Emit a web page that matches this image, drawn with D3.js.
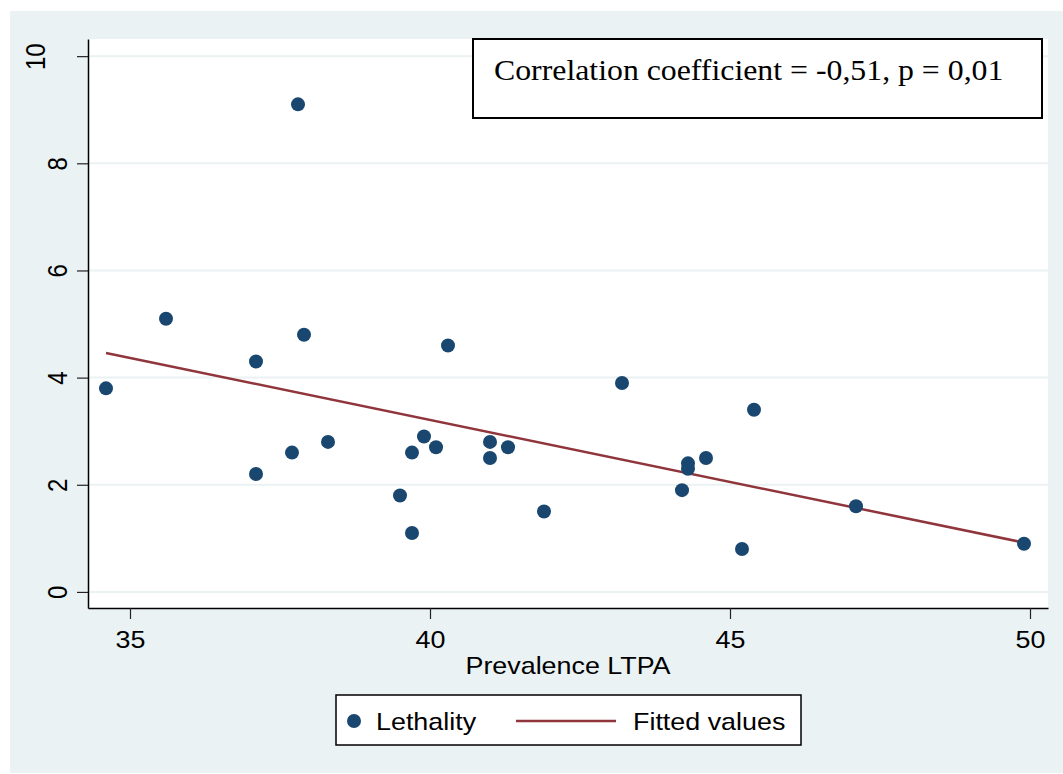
<!DOCTYPE html>
<html>
<head>
<meta charset="utf-8">
<script src="https://cdn.jsdelivr.net/npm/d3@7"></script>
<style>
  body { margin: 0; background: #fff; }
</style>
</head>
<body>
<div id="chart"></div>
<script>
// data
var prevalence = [34.6, 35.6, 37.1, 37.1, 37.7, 37.8, 37.9, 38.3, 39.5, 39.7, 39.7, 39.9, 40.1, 40.3,
  41.0, 41.0, 41.3, 41.9, 43.2, 44.2, 44.3, 44.3, 44.6, 45.2, 45.4, 47.1, 49.9];
var lethality = [3.8, 5.1, 4.3, 2.2, 2.6, 9.1, 4.8, 2.8, 1.8, 2.6, 1.1, 2.9, 2.7, 4.6,
  2.8, 2.5, 2.7, 1.5, 3.9, 1.9, 2.4, 2.3, 2.5, 0.8, 3.4, 1.6, 0.9];

// fitted line end points
var fitX = [34.6, 49.9];
var fitY = [4.46, 0.92];

var xTicks = [35, 40, 45, 50];
var yTicks = [0, 2, 4, 6, 8, 10];
var legendLabels = ["Lethality", "Fitted values"];
var xTitle = "Prevalence LTPA";
var noteText = "Correlation coefficient = -0,51, p = 0,01";

var svgWidth = 1063;
var svgHeight = 774;

var plot = { left: 88, right: 1048, top: 39, bottom: 608 };

var bg = "#eaf2f3";
var navy = "#1a476f";
var maroon = "#90353b";
var sans = "'Liberation Sans', Arial, Helvetica, sans-serif";
var serif = "'Liberation Serif', 'Times New Roman', serif";

var svg = d3.select("#chart")
  .append("svg")
  .attr("width", svgWidth)
  .attr("height", svgHeight);

// outer graph region
svg.append("rect")
  .attr("x", 10)
  .attr("y", 11)
  .attr("width", svgWidth - 10)
  .attr("height", svgHeight - 12)
  .attr("fill", bg);

// plot region
svg.append("rect")
  .attr("x", plot.left)
  .attr("y", plot.top)
  .attr("width", plot.right - plot.left)
  .attr("height", plot.bottom - plot.top)
  .attr("fill", "#fff");

var x = d3.scaleLinear().domain([34.3, 50.3]).range([plot.left, plot.right]);
var y = d3.scaleLinear().domain([-0.3, 10.32]).range([plot.bottom, plot.top]);

// gridlines
svg.append("g")
  .selectAll("line")
  .data(yTicks)
  .enter()
  .append("line")
  .attr("x1", plot.left)
  .attr("x2", plot.right)
  .attr("y1", d => y(d))
  .attr("y2", d => y(d))
  .attr("stroke", bg)
  .attr("stroke-width", 2);

// y axis
var yAxis = svg.append("g")
  .attr("transform", `translate(${plot.left},0)`)
  .call(d3.axisLeft(y).tickValues(yTicks).tickSize(11).tickSizeOuter(0).tickFormat(d3.format("d")));

yAxis.selectAll(".tick text")
  .attr("x", 0)
  .attr("dy", 0)
  .attr("text-anchor", "middle")
  // the two digit label sits further out, as in the original
  .attr("transform", d => `translate(${-21 - (String(d).length - 1) * 22},0) scale(1.12,1) rotate(-90)`);

// x axis
var xAxis = svg.append("g")
  .attr("transform", `translate(0,${plot.bottom})`)
  .call(d3.axisBottom(x).tickValues(xTicks).tickSize(11).tickSizeOuter(0).tickFormat(d3.format("d")));

xAxis.selectAll(".tick text")
  .attr("y", 0)
  .attr("dy", 0)
  .attr("transform", "translate(0,40) scale(1.12,1)");

svg.selectAll(".domain").attr("stroke", "#000").attr("stroke-width", 1.5);
svg.selectAll(".tick line").attr("stroke", "#222").attr("stroke-width", 1.2);
svg.selectAll(".tick text")
  .attr("fill", "#000")
  .attr("font-family", sans)
  .attr("font-size", 24);

// x axis title
svg.append("text")
  .attr("transform", `translate(${(plot.left + plot.right) / 2},674) scale(1.12,1)`)
  .attr("text-anchor", "middle")
  .attr("font-family", sans)
  .attr("font-size", 24)
  .attr("fill", "#000")
  .text(xTitle);

// fitted line
var line = d3.line()
  .x(d => x(d[0]))
  .y(d => y(d[1]));

svg.append("path")
  .datum(fitX.map((d, i) => [d, fitY[i]]))
  .attr("d", line)
  .attr("fill", "none")
  .attr("stroke", maroon)
  .attr("stroke-width", 2.5);

// points
svg.append("g")
  .selectAll("circle")
  .data(prevalence)
  .enter()
  .append("circle")
  .attr("cx", d => x(d))
  .attr("cy", (d, i) => y(lethality[i]))
  .attr("r", 7)
  .attr("fill", navy);

// correlation note
svg.append("rect")
  .attr("x", 473)
  .attr("y", 39)
  .attr("width", 569)
  .attr("height", 79)
  .attr("fill", "#fff")
  .attr("stroke", "#000")
  .attr("stroke-width", 2);

svg.append("text")
  .attr("transform", "translate(494,80) scale(1.06,1)")
  .attr("font-family", serif)
  .attr("font-size", 30)
  .attr("fill", "#000")
  .text(noteText);

// legend
var legend = svg.append("g");

legend.append("rect")
  .attr("x", 336)
  .attr("y", 695)
  .attr("width", 465)
  .attr("height", 50)
  .attr("fill", "#fff")
  .attr("stroke", "#000")
  .attr("stroke-width", 1.5);

legend.append("circle")
  .attr("cx", 354)
  .attr("cy", 721)
  .attr("r", 7)
  .attr("fill", navy);

legend.append("line")
  .attr("x1", 516)
  .attr("x2", 616)
  .attr("y1", 721)
  .attr("y2", 721)
  .attr("stroke", maroon)
  .attr("stroke-width", 2.5);

legend.selectAll("text")
  .data(legendLabels)
  .enter()
  .append("text")
  .attr("transform", (d, i) => `translate(${i === 0 ? 376 : 633},730) scale(1.12,1)`)
  .attr("font-family", sans)
  .attr("font-size", 24)
  .attr("fill", "#000")
  .text(d => d);
</script>
</body>
</html>
